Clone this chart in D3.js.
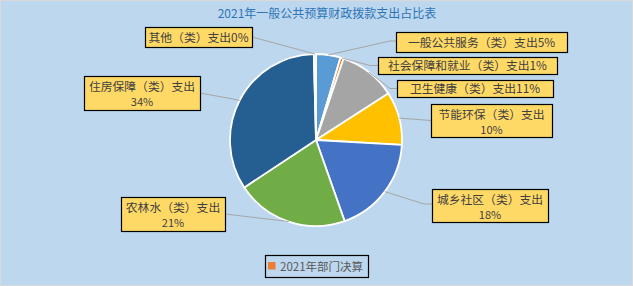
<!DOCTYPE html>
<html>
<head>
<meta charset="utf-8">
<script src="https://cdn.jsdelivr.net/npm/d3@7"></script>
<style>
  html, body { margin: 0; padding: 0; background: #BDD7EE; }
  svg { display: block; font-family: "Noto Sans CJK SC", "Noto Sans", sans-serif; }
</style>
</head>
<body>
<div id="chart"></div>
<script>
// 数据
const title = "2021年一般公共预算财政拨款支出占比表";
const seriesName = "2021年部门决算";
const categories = [
  "一般公共服务（类）支出",
  "社会保障和就业（类）支出",
  "卫生健康（类）支出",
  "节能环保（类）支出",
  "城乡社区（类）支出",
  "农林水（类）支出",
  "住房保障（类）支出",
  "其他（类）支出"
];
// 从图上估计的份额（%）
const values = [4.6, 0.6, 10.7, 10.0, 18.7, 21.1, 33.9, 0.4];
// 图上标注的百分比
const pctLabels = ["5%", "1%", "11%", "10%", "18%", "21%", "34%", "0%"];

const colors = ["#5B9BD5", "#ED7D31", "#A5A5A5", "#FFC000", "#4472C4", "#70AD47", "#255E91", "#9DC3E6"];

// 标签框布局
const boxes = [
  { x: 396, y: 32, w: 171, h: 20, two: false, elbow: [390, 41] },
  { x: 378, y: 57, w: 179, h: 17, two: false, elbow: [370, 65.5] },
  { x: 397, y: 80, w: 156, h: 17, two: false, elbow: [390, 88.5] },
  { x: 431, y: 104, w: 121, h: 33, two: true, elbow: null },
  { x: 432, y: 189, w: 116, h: 33, two: true, elbow: [424, 204] },
  { x: 121, y: 197, w: 104, h: 34, two: true, elbow: null, right: true },
  { x: 84, y: 76, w: 116, h: 34, two: true, elbow: null, right: true },
  { x: 145, y: 27, w: 107, h: 20, two: false, elbow: null, right: true }
];

const W = 633, H = 286;
const cx = 316, cy = 140, R = 86;

const svg = d3.select("#chart").append("svg")
  .attr("width", W).attr("height", H);

svg.append("rect")
  .attr("x", 0.5).attr("y", 0.5)
  .attr("width", W - 1).attr("height", H - 1)
  .attr("fill", "#BDD7EE")
  .attr("stroke", "#D9D9D9");

// 标题
svg.append("text")
  .attr("x", 327).attr("y", 18)
  .attr("text-anchor", "middle")
  .style("font-size", "12px")
  .style("fill", "#2E75B6")
  .text(title);

const data = categories.map((c, i) => ({ name: c, value: values[i], pct: pctLabels[i], i }));

const pie = d3.pie().sort(null).value(d => d.value);
const arcs = pie(data);
const arc = d3.arc().innerRadius(0).outerRadius(R);

const g = svg.append("g").attr("transform", `translate(${cx},${cy})`);

g.selectAll(".slice")
  .data(arcs)
  .join("path")
  .attr("class", "slice")
  .attr("d", arc)
  .attr("fill", d => colors[d.data.i])
  .attr("stroke", "#fff")
  .attr("stroke-width", 1.8)
  .attr("stroke-linejoin", "round");

// 引导线
const edgeArc = d3.arc().innerRadius(R).outerRadius(R);
svg.selectAll(".leader")
  .data(arcs)
  .join("polyline")
  .attr("class", "leader")
  .attr("fill", "none")
  .attr("stroke", "#A6A6A6")
  .attr("stroke-width", 1)
  .attr("points", d => {
    const b = boxes[d.data.i];
    const [px, py] = edgeArc.centroid(d);
    const ay = b.y + b.h / 2;
    const ax = b.right ? b.x + b.w : b.x;
    const pts = [[cx + px, cy + py]];
    if (b.elbow) pts.push(b.elbow);
    pts.push([ax, b.elbow ? b.elbow[1] : ay]);
    return pts.map(p => p.join(",")).join(" ");
  });

// 标签框
svg.selectAll(".label")
  .data(data)
  .join("g")
  .attr("class", "label")
  .each(function(d) {
    const b = boxes[d.i];
    const lg = d3.select(this);
    lg.append("rect")
      .attr("x", b.x + 0.5).attr("y", b.y + 0.5)
      .attr("width", b.w).attr("height", b.h)
      .attr("fill", "#FFD966")
      .attr("stroke", "#000")
      .attr("stroke-width", 1.2);
    const t = lg.append("text")
      .attr("text-anchor", "middle")
      .style("font-size", "11.8px")
      .style("fill", "#404040");
    if (b.two) {
      t.append("tspan").attr("x", b.x + b.w / 2).attr("y", b.y + 14.5).text(d.name);
      t.append("tspan").attr("x", b.x + b.w / 2).attr("y", b.y + 29.5)
        .style("font-size", "11px").text(d.pct);
    } else {
      t.attr("x", b.x + b.w / 2).attr("y", b.y + b.h / 2 + 4.5).text(d.name + d.pct);
    }
  });

// 图例
const legend = svg.append("g");
legend.append("rect")
  .attr("x", 265.5).attr("y", 255.5)
  .attr("width", 103).attr("height", 22)
  .attr("fill", "none")
  .attr("stroke", "#000")
  .attr("stroke-width", 1.2);
legend.append("rect")
  .attr("x", 268).attr("y", 262)
  .attr("width", 7.5).attr("height", 7.5)
  .attr("fill", "#ED7D31");
legend.append("text")
  .attr("x", 280).attr("y", 270.5)
  .style("font-size", "11.5px")
  .style("fill", "#595959")
  .text(seriesName);
</script>
</body>
</html>
